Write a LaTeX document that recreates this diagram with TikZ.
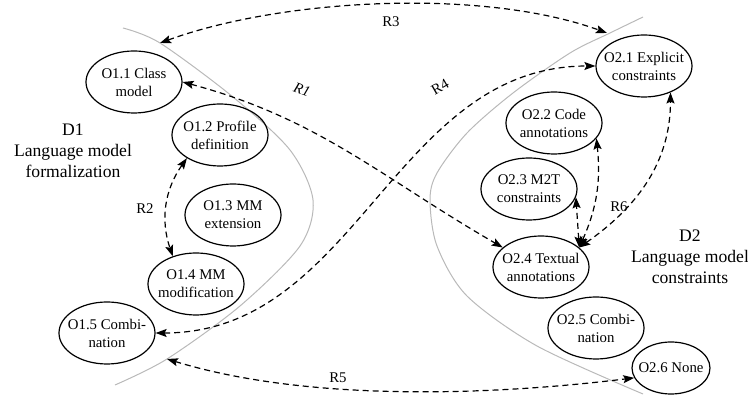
\documentclass[tikz,border=0pt]{standalone}
\usepackage{fontspec}
\setmainfont{Liberation Serif}
\usetikzlibrary{shapes.geometric,arrows.meta}

\begin{document}
\begin{tikzpicture}[x=1pt,y=1pt,
  opt/.style={ellipse,draw,line width=1.2pt,minimum width=96pt,minimum height=62pt,
              inner xsep=-20pt,inner ysep=-6pt,align=center,font=\fontsize{14.8}{18}\selectfont},
  dom/.style={align=center,font=\fontsize{17.6}{21}\selectfont},
  lab/.style={font=\fontsize{14.8}{18}\selectfont,inner sep=0pt},
  rel/.style={line width=1.2pt,dash pattern=on 6pt off 4pt,
              {Stealth[length=11pt,width=8pt,inset=2pt]}-{Stealth[length=11pt,width=8pt,inset=2pt]}},
  border/.style={gray!55,line width=1pt}]
  \useasboundingbox (0,0) rectangle (748,396);

  \draw[border] plot[smooth] coordinates {(123,368) (160,353) (233,299) (290,246) (313,196)
    (300,150) (240,90) (167,37) (115,11)};
  \draw[border] plot[smooth] coordinates {(643,379) (610,363) (570,343) (513,303) (467,263)
    (437,223) (430,196) (437,150) (467,100) (537,50) (643,2)};

  \node[dom] (d1) at (73,245) {D1\\Language model\\formalization};
  \node[dom] (d2) at (690,139) {D2\\Language model\\constraints};

  \node[opt] (o11) at (134,314) {O1.1 Class\\model};
  \node[opt] (o12) at (220,261) {O1.2 Profile\\definition};
  \node[opt] (o13) at (233,181) {O1.3 MM\\extension};
  \node[opt] (o14) at (196,112) {O1.4 MM\\modification};
  \node[opt] (o15) at (107,63)  {O1.5 Combi-\\nation};

  \node[opt] (o21) at (644,330) {O2.1 Explicit\\constraints};
  \node[opt] (o22) at (554,273) {O2.2 Code\\annotations};
  \node[opt] (o23) at (529,207) {O2.3 M2T\\constraints};
  \node[opt] (o24) at (541,129) {O2.4 Textual\\annotations};
  \node[opt] (o25) at (596,68)  {O2.5 Combi-\\nation};
  \node[opt,minimum width=78pt,minimum height=52pt] (o26) at (671,28) {O2.6 None};

  \coordinate (r3a) at (160,353);
  \coordinate (r3b) at (607,363);
  \coordinate (r5a) at (167,37);

  \draw[rel] (r3a) to[out=20,in=160,looseness=0.75] (r3b);
  \draw[rel] (o11.east) to[out=-15,in=150] (o24.153);
  \draw[rel] (o15.east) to[out=0,in=180] (o21.west);
  \draw[rel] (o12.215) to[bend right=27] (o14.130);
  \draw[rel] (r5a) to[out=-17,in=187,looseness=0.8] (o26.195);
  \draw[rel] (o24.27) -- (o23.-10);
  \draw[rel] (o24.27) to[bend right=15] (o22.-20);
  \draw[rel] (o24.27) to[out=35,in=-90] (o21.-45);

  \node[lab,rotate=-20] (l1) at (302,306) {\itshape R1};
  \node[lab] (l2) at (145,187) {R2};
  \node[lab] (l3) at (391,374) {R3};
  \node[lab,rotate=30] (l4) at (440,309) {R4};
  \node[lab] (l5) at (338,18) {R5};
  \node[lab] (l6) at (619,189) {R6};
\end{tikzpicture}
\end{document}
